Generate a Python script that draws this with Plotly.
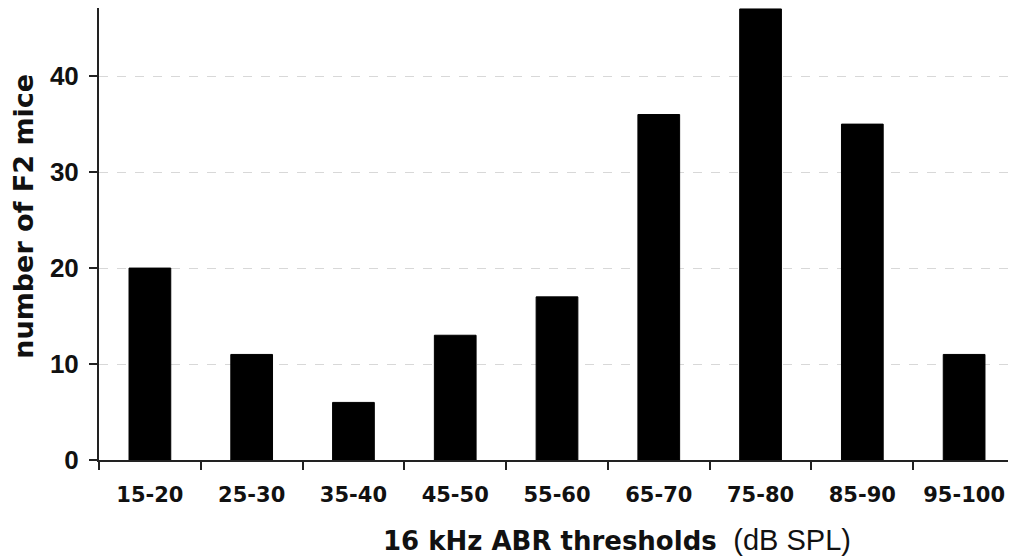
import plotly.graph_objects as go

categories = ["15-20", "25-30", "35-40", "45-50", "55-60", "65-70", "75-80", "85-90", "95-100"]
counts = [20, 11, 6, 13, 17, 36, 47, 35, 11]
y_ticks = [0, 10, 20, 30, 40]

fig = go.Figure()
fig.add_trace(go.Bar(
    x=categories, y=counts,
    marker=dict(color="black", line=dict(color="black", width=1)),
    width=0.41,
))

fig.update_layout(
    width=1008, height=548,
    margin=dict(l=91, r=1, t=0, b=96),
    paper_bgcolor="white", plot_bgcolor="white",
    showlegend=False,
    xaxis=dict(
        type="category",
        showline=True, linecolor="#222", linewidth=2,
        ticks="outside", tickson="boundaries", ticklen=8, tickwidth=2, tickcolor="#222",
        tickfont=dict(family="DejaVu Sans", size=21, color="#111", weight="bold"),
        ticklabelstandoff=15,
        showgrid=False, zeroline=False,
        range=[-0.5, 8.5],
    ),
    yaxis=dict(
        range=[0, 47.1],
        tickvals=y_ticks,
        showline=True, linecolor="#222", linewidth=2,
        ticks="outside", ticklen=8, tickwidth=2, tickcolor="#222",
        tickfont=dict(family="Liberation Sans", size=26, color="#111", weight="bold"),
        ticklabelstandoff=5,
        showgrid=True, gridcolor="#d8d8d8", griddash="dash", gridwidth=1,
        zeroline=False,
    ),
    annotations=[
        dict(
            text="<b>16 kHz ABR thresholds</b>  <span style='font-family:Liberation Sans;font-weight:normal;font-size:29px'>(dB SPL)</span>",
            xref="paper", yref="paper", x=0.5655, y=-0.177, xanchor="center", yanchor="middle",
            showarrow=False,
            font=dict(family="DejaVu Sans", size=26, color="#111"),
        ),
        dict(
            text="<b>number of F2 mice</b>",
            xref="paper", yref="paper", x=-0.082, y=0.54, xanchor="center", yanchor="middle",
            textangle=-90, showarrow=False,
            font=dict(family="DejaVu Sans", size=27, color="#111"),
        ),
    ],
)

fig.write_html("out.html")
